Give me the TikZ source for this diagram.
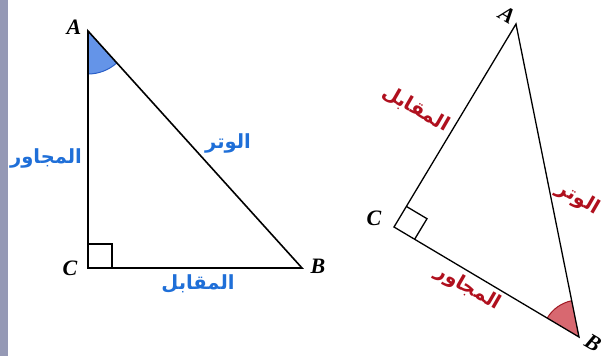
\documentclass[tikz,border=0pt]{standalone}
\usepackage{fontspec}
\usetikzlibrary{angles,calc}
\TeXXeTstate=1
\newfontfamily\arabicfont[Script=Arabic]{DejaVu Sans}
\newfontfamily\letterfont{Liberation Serif}
\definecolor{stripc}{HTML}{9599B5}
\definecolor{bluetxt}{HTML}{1F6FD8}
\definecolor{bluefill}{HTML}{6494E8}
\definecolor{blueline}{HTML}{2A5FC8}
\definecolor{redtxt}{HTML}{B0101E}
\definecolor{redfill}{HTML}{D86870}
\definecolor{redline}{HTML}{A01822}
\tikzset{
  side/.style={draw=black,line width=1.6pt},
  side2/.style={draw=black,line width=1.3pt},
  vlabel/.style={font=\letterfont\bfseries\itshape\fontsize{22}{22}\selectfont,inner sep=0pt},
  bluelab/.style={font=\arabicfont\bfseries\fontsize{19.5}{19.5}\selectfont,text=bluetxt,inner sep=0pt},
  redlab/.style={font=\arabicfont\bfseries\fontsize{19.5}{19.5}\selectfont,text=redtxt,inner sep=0pt},
}
\begin{document}
\begin{tikzpicture}[x=1pt,y=-1pt]
\useasboundingbox (0,0) rectangle (608,356);
\fill[white] (0,0) rectangle (608,356);
\fill[stripc] (0,0) rectangle (8,356);
% left triangle
\coordinate (A1) at (88,31);
\coordinate (C1) at (88,268);
\coordinate (B1) at (302,268);
\pic[fill=bluefill,draw=blueline,line width=1pt,angle radius=43pt] {angle = C1--A1--B1};
\draw[side] (A1) -- (C1) -- (B1) -- cycle;
\draw[side2] ($(C1)!24pt!(A1)$) -- ($(C1)!24pt!(A1)+(24,0)$) -- ($(C1)!24pt!(B1)$);
\node[vlabel] (la1) at (74,27) {A};
\node[vlabel] (lc1) at (70,268) {C};
\node[vlabel] (lb1) at (318,266) {B};
\node[bluelab] (adj1) at (46,158) {\beginR المجاور\endR};
\node[bluelab] (hyp1) at (228,143) {\beginR الوتر\endR};
\node[bluelab] (opp1) at (198,284) {\beginR المقابل\endR};
% right triangle
\coordinate (A2) at (516,24);
\coordinate (C2) at (394,227);
\coordinate (B2) at (579,337);
\pic[fill=redfill,draw=redline,line width=1pt,angle radius=37pt] {angle = A2--B2--C2};
\draw[side2] (A2) -- (C2) -- (B2) -- cycle;
\coordinate (q1) at ($(C2)!24pt!(A2)$);
\coordinate (q3) at ($(C2)!24pt!(B2)$);
\draw[side2] (q1) -- ($(q1)+(q3)-(C2)$) -- (q3);
\node[vlabel,rotate=-30] (la2) at (507,15) {A};
\node[vlabel] (lc2) at (374,218) {C};
\node[vlabel,rotate=-30] (lb2) at (593,343) {B};
\node[redlab,rotate=-30] (opp2) at (416,109) {\beginR المقابل\endR};
\node[redlab,rotate=-30] (hyp2) at (578,199) {\beginR الوتر\endR};
\node[redlab,rotate=-30] (adj2) at (468,288) {\beginR المجاور\endR};
\end{tikzpicture}
\end{document}
